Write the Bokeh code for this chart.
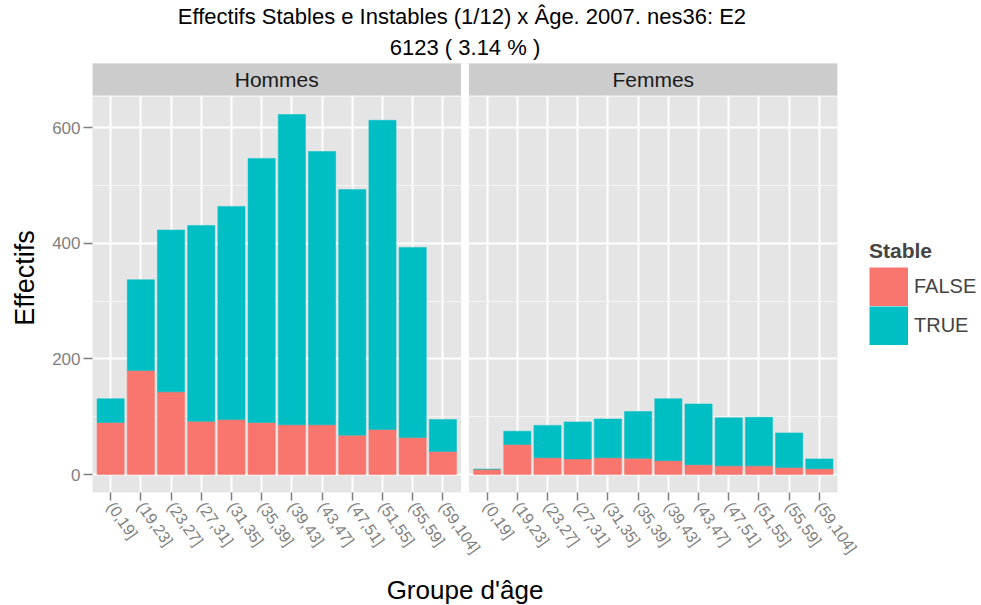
import math
from bokeh.plotting import figure
from bokeh.models import (FactorRange, Range1d, FixedTicker, Legend, LegendItem, Title,
                          ColumnDataSource)
from bokeh.core.properties import value
from bokeh.embed import file_html
from bokeh.resources import INLINE

# ---------------- data ----------------
groups = ["Hommes", "Femmes"]
ages = ["(0,19]", "(19,23]", "(23,27]", "(27,31]", "(31,35]", "(35,39]",
        "(39,43]", "(43,47]", "(47,51]", "(51,55]", "(55,59]", "(59,104]"]
hommes_false = [90, 180, 143, 92, 95, 90, 86, 86, 68, 78, 64, 40]
hommes_true = [41, 157, 280, 339, 369, 457, 537, 473, 425, 535, 329, 55]
femmes_false = [9, 52, 29, 27, 29, 28, 24, 17, 15, 15, 12, 10]
femmes_true = [0, 23, 56, 64, 67, 81, 107, 105, 83, 84, 60, 17]
stable_levels = ["FALSE", "TRUE"]
y_ticks = [0, 200, 400, 600]
y_minor_ticks = [100, 300, 500]
title_line1 = "Effectifs Stables e Instables (1/12) x Âge. 2007. nes36:  E2"
title_line2 = "6123 ( 3.14 % )"
x_label = "Groupe d'âge"
y_label = "Effectifs"
legend_title = "Stable"

# ---------------- style ----------------
FONT = "Liberation Sans"
C_FALSE = "#F8766D"
C_TRUE = "#00BFC4"
level_colors = [C_FALSE, C_TRUE]
PANEL_BG = "#E5E5E5"
STRIP_BG = "#CCCCCC"
GREY_TXT = "#7F7F7F"

factors = [(g, a) for g in groups for a in ages]
false_vals = hommes_false + femmes_false
true_vals = hommes_true + femmes_true
source = ColumnDataSource(dict(x=factors, FALSE=false_vals, TRUE=true_vals))

totals = [f + t for f, t in zip(false_vals, true_vals)]
ymax = max(totals) * 1.05
ymin = -max(totals) * 0.05
PANEL_PX = 396
SEP_PX = 1
STRIP_PX = 32
upp = (ymax - ymin) / PANEL_PX
y_sep_top = ymax + SEP_PX * upp
y_strip_top = y_sep_top + STRIP_PX * upp

x_range = FactorRange(factors=factors, range_padding=0.1,
                      range_padding_units="absolute", group_padding=0.464)

p = figure(x_range=x_range, y_range=Range1d(ymin, y_strip_top),
           frame_width=745, frame_height=PANEL_PX + SEP_PX + STRIP_PX,
           min_border_left=92, min_border_top=63, min_border_bottom=105,
           min_border_right=140, title=None,
           output_backend="svg", toolbar_location=None,
           background_fill_color=PANEL_BG, border_fill_color="white",
           outline_line_color=None)

# bars
renderers = p.vbar_stack(stable_levels, x="x", width=0.9, source=source,
                         fill_color=level_colors, line_color=level_colors,
                         line_width=0.5)

# facet decorations: white gap between panels, white separator, grey strips
first, last = ages[0], ages[-1]
gap_src = ColumnDataSource(dict(
    left=[["Hommes", last, 0.6]], right=[["Femmes", first, -0.6]],
    bottom=[ymin - 100], top=[y_strip_top + 100]))
p.quad(left="left", right="right", bottom="bottom", top="top", source=gap_src,
       fill_color="white", line_color=None)
sep_src = ColumnDataSource(dict(
    left=[["Hommes", first, -2]], right=[["Femmes", last, 2]],
    bottom=[ymax], top=[y_sep_top]))
p.quad(left="left", right="right", bottom="bottom", top="top", source=sep_src,
       fill_color="white", line_color=None)
strip_src = ColumnDataSource(dict(
    left=[[g, first, -0.6] for g in groups], right=[[g, last, 0.6] for g in groups],
    bottom=[y_sep_top] * 2, top=[y_strip_top + 100] * 2))
p.quad(left="left", right="right", bottom="bottom", top="top", source=strip_src,
       fill_color=STRIP_BG, line_color=None)
strip_txt = ColumnDataSource(dict(x=groups, y=[(y_sep_top + y_strip_top) / 2] * 2, t=groups))
p.text(x="x", y="y", text="t", source=strip_txt, text_align="center",
       text_baseline="middle", text_font=value(FONT), text_font_size="21px",
       text_color="#1A1A1A")

# grids
p.ygrid.ticker = FixedTicker(ticks=y_ticks, minor_ticks=y_minor_ticks)
p.ygrid.grid_line_color = "white"
p.ygrid.grid_line_width = 2
p.ygrid.minor_grid_line_color = "#F4F4F4"
p.ygrid.minor_grid_line_width = 1
p.xgrid.grid_line_color = "white"
p.xgrid.grid_line_width = 2

# y axis
yax = p.yaxis[0]
yax.ticker = FixedTicker(ticks=y_ticks, minor_ticks=y_minor_ticks)
yax.axis_line_color = None
yax.major_tick_line_color = GREY_TXT
yax.major_tick_line_width = 1.5
yax.major_tick_out = 9
yax.major_tick_in = 0
yax.minor_tick_line_color = None
yax.major_label_text_color = GREY_TXT
yax.major_label_text_font = FONT
yax.major_label_text_font_size = "17px"
yax.major_label_standoff = 3
yax.axis_label = y_label
yax.axis_label_text_font = FONT
yax.axis_label_text_font_size = "27px"
yax.axis_label_text_font_style = "normal"
yax.axis_label_text_color = "black"
yax.axis_label_standoff = 9

# x axis
xax = p.xaxis[0]
xax.axis_line_color = None
xax.major_tick_line_color = GREY_TXT
xax.major_tick_line_width = 1.5
xax.major_tick_out = 8
xax.major_tick_in = 0
xax.major_label_orientation = -math.radians(55)
xax.major_label_text_color = GREY_TXT
xax.major_label_text_font = FONT
xax.major_label_text_font_size = "16px"
xax.major_label_standoff = 3
xax.group_text_font_size = "1px"
xax.group_text_color = None
xax.separator_line_color = None
xax.axis_label = x_label
xax.axis_label_text_font = FONT
xax.axis_label_text_font_size = "26px"
xax.axis_label_text_font_style = "normal"
xax.axis_label_text_color = "black"
xax.axis_label_standoff = 11

# titles (first added is closest to the frame)
p.add_layout(Title(text=title_line2, align="center", text_font=FONT,
                   text_font_size="22px", text_font_style="normal",
                   text_color="black", standoff=8), "above")
p.add_layout(Title(text=title_line1, align="center", text_font=FONT,
                   text_font_size="22px", text_font_style="normal",
                   text_color="black", standoff=0), "above")

# legend keys: thick butt-capped lines (no visible data) give solid, touching squares
key_renderers = [p.line(x=[factors[0], factors[1]], y=[float("nan"), float("nan")],
                        line_color=c, line_width=39, line_cap="butt")
                 for c in level_colors]
legend = Legend(items=[LegendItem(label=lab, renderers=[r])
                       for lab, r in zip(stable_levels, key_renderers)],
                title=legend_title, location=(32, 147),
                title_text_font=FONT, title_text_font_size="21px",
                title_text_font_style="bold", title_standoff=4,
                label_text_font=FONT, label_text_font_size="20px",
                glyph_width=39, glyph_height=39, label_height=39,
                label_standoff=6, spacing=0, padding=0, margin=0,
                border_line_color=None, background_fill_alpha=0)
p.add_layout(legend, "right")

open("out.html", "w").write(file_html(p, INLINE))
